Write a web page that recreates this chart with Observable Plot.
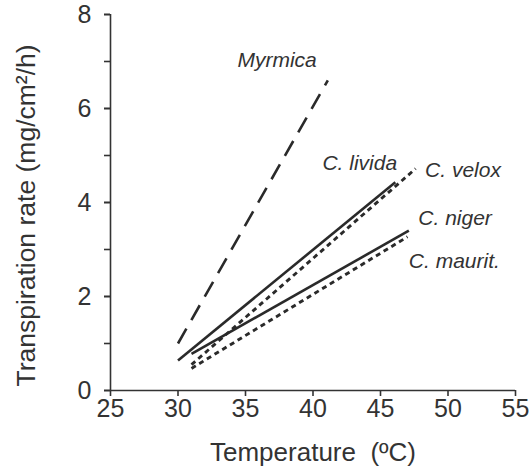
<!DOCTYPE html>
<html>
<head>
<meta charset="utf-8">
<script src="https://cdn.jsdelivr.net/npm/d3@7"></script>
<script src="https://cdn.jsdelivr.net/npm/@observablehq/plot@0.6"></script>
<style>
  html, body { margin: 0; padding: 0; background: #fff; }
  #chart svg { display: block; }
</style>
</head>
<body>
<div id="chart"></div>
<script>
// Species and their fitted regression lines (start / end points)
const species = ["Myrmica", "C. livida", "C. velox", "C. niger", "C. maurit."];
const tempStart = [30, 30, 31, 31, 31];
const tempEnd = [41.1, 46.1, 47.6, 47.1, 47.0];
const rateStart = [1.0, 0.64, 0.55, 0.78, 0.47];
const rateEnd = [6.6, 4.43, 4.72, 3.40, 3.27];

// Label anchor positions (data units)
const labelTemp = [34.4, 40.7, 48.3, 47.8, 47.1];
const labelRate = [7.02, 4.83, 4.68, 3.66, 2.74];

// Axis ticks
const xTicks = [25, 30, 35, 40, 45, 50, 55];
const yTicks = [0, 1, 2, 3, 4, 5, 6, 7, 8];
const yLabelTicks = [0, 2, 4, 6, 8];

const xTitle = "Temperature\u00a0\u00a0(ºC)";
const yTitle = "Transpiration rate (mg/cm²/h)";

const dashes = {
  "Myrmica": "17,10",
  "C. livida": null,
  "C. velox": "5,4",
  "C. niger": null,
  "C. maurit.": "5,4"
};

const segs = species.map((s, i) => ({
  species: s,
  x1: tempStart[i], y1: rateStart[i], x2: tempEnd[i], y2: rateEnd[i]
}));
const labels = species.map((s, i) => ({species: s, x: labelTemp[i], y: labelRate[i]}));

const ink = "#2a2a2a";
const font = "'Liberation Sans', Arial, Helvetica, sans-serif";

const lineMarks = segs.map(d => Plot.link([d], {
  x1: "x1", y1: "y1", x2: "x2", y2: "y2",
  stroke: ink, strokeWidth: dashes[d.species] && d.species !== "Myrmica" ? 2.9 : 2.6,
  strokeDasharray: dashes[d.species] || undefined,
  strokeLinecap: "butt"
}));

const chart = Plot.plot({
  width: 530,
  height: 473,
  marginLeft: 110,
  marginRight: 15,
  marginTop: 14,
  marginBottom: 83,
  style: {fontFamily: font, color: "#333", background: "#fff"},
  x: {domain: [25, 55], axis: null},
  y: {domain: [0, 8], axis: null},
  marks: [
    Plot.ruleX([25], {y1: 0, y2: 8, stroke: "#333", strokeWidth: 1.6}),
    Plot.ruleY([0], {x1: 25, x2: 55, stroke: "#333", strokeWidth: 1.6}),
    Plot.axisX({ticks: xTicks, tickSize: 6, tickPadding: 3, fontSize: 25, stroke: "#333", strokeWidth: 1.6, fill: "#333", tickFormat: d => d}),
    Plot.axisY({ticks: yTicks, tickSize: 6, tickPadding: 0, tickFormat: null, stroke: "#333", strokeWidth: 1.6, text: null}),
    Plot.axisY({ticks: yLabelTicks, tickSize: 6, tickPadding: 13, fontSize: 25, fill: "#333", tickFormat: d => d, stroke: "#333", strokeWidth: 1.6}),
    ...lineMarks,
    Plot.text(labels, {x: "x", y: "y", text: "species", textAnchor: "start", lineAnchor: "middle",
      fontSize: 21, fontStyle: "italic", fill: "#333"}),
    Plot.text([xTitle], {frameAnchor: "bottom", dy: 62, lineAnchor: "middle", textAnchor: "middle", fontSize: 26, fill: "#333"}),
    Plot.text([yTitle], {frameAnchor: "left", rotate: -90, dx: -84, dy: 13, textAnchor: "middle", lineAnchor: "middle", fontSize: 26.5, fill: "#333"})
  ]
});

document.getElementById("chart").appendChild(chart);
</script>
</body>
</html>
